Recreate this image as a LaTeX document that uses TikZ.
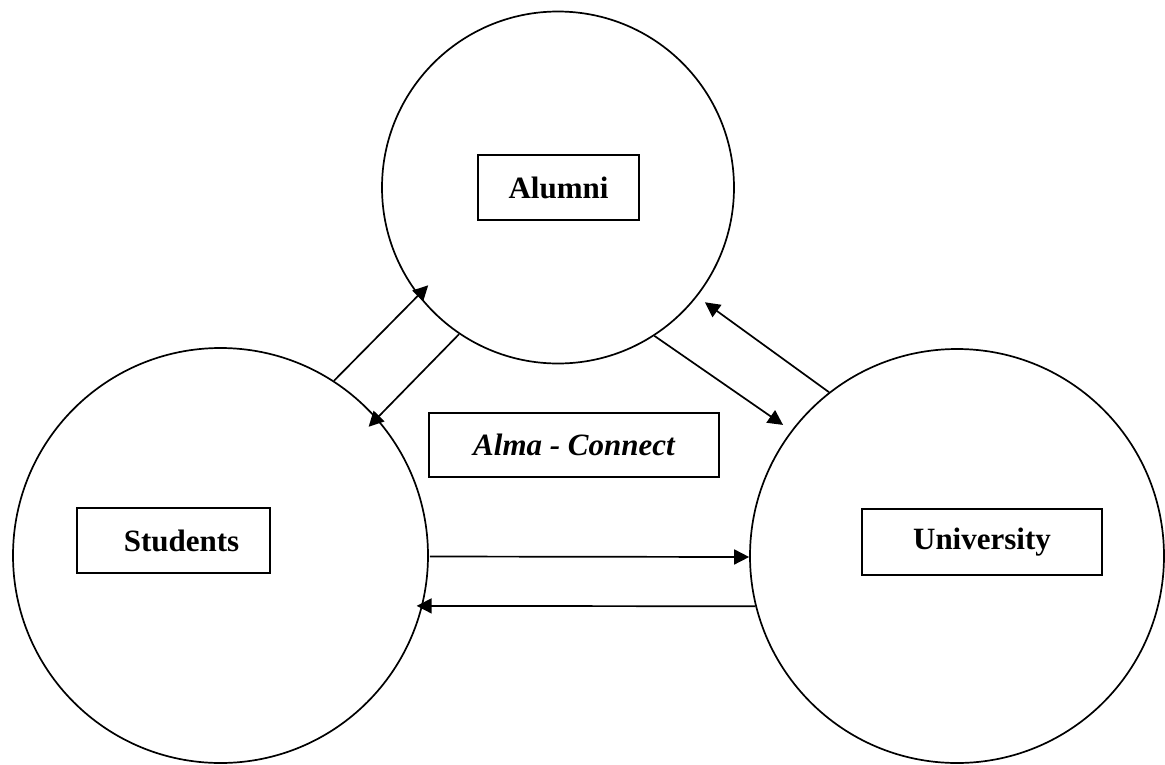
\documentclass[tikz,border=0pt]{standalone}
\usepackage{fontspec}
\setmainfont{Liberation Serif}
\usetikzlibrary{arrows.meta,calc}
\begin{document}
\begin{tikzpicture}[x=1pt,y=-1pt,
  entity/.style={draw,circle,line width=1.7pt,inner sep=0pt},
  labelbox/.style={draw,line width=1.7pt,inner sep=0pt,font=\fontsize{31}{36}\selectfont\bfseries},
  flow/.style={line width=1.7pt,-{Triangle[length=15pt,width=15pt]}}]
\useasboundingbox (0,0) rectangle (1165,764);
% circles
\node[entity,minimum size=352pt] (alu) at (558,187.5) {};
\node[entity,minimum size=415pt] (stu) at (220.5,555.5) {};
\node[entity,minimum size=414pt] (uni) at (957,556) {};
% boxes
\node[labelbox,minimum width=161pt,minimum height=65pt] (alubox) at (558.5,187.5) {Alumni\hspace{16pt}};
\node[labelbox,minimum width=193pt,minimum height=65pt] (stubox) at (173.5,540.5) {\hspace{16pt}Students};
\node[labelbox,minimum width=240pt,minimum height=66pt] (unibox) at (982,542) {University\hspace{22pt}};
\node[labelbox,minimum width=290pt,minimum height=64pt,font=\fontsize{31}{36}\selectfont\bfseries\itshape] (alma) at (574,445) {Alma - Connect\hspace{7pt}};
% arrows
\draw[flow] (stu.57.6) -- ($(alu.center)!0.919!(alu.217.1)$);
\draw[flow] (alu.236.1) -- ($(stu.center)!0.942!(stu.41.4)$);
\draw[flow] (alu.303.6) -- ($(uni.center)!1.048!(uni.143.9)$);
\draw[flow] (uni.128.7) -- ($(alu.center)!1.054!(alu.322.4)$);
\draw[flow] ($(stu.center)!1.005!(stu.0)+(0,1)$) -- ($(uni.west)+(0,1)$);
\draw[flow,shorten >=-6pt] (uni.194) -- (stu.-14);
\end{tikzpicture}
\end{document}
